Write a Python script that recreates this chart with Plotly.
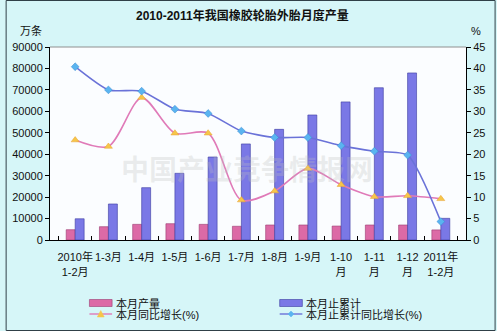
import plotly.graph_objects as go

# 2010-2011 monthly output of rubber tyre casings in China
categories = ["2010年<br>1-2月", "1-3月", "1-4月", "1-5月", "1-6月", "1-7月", "1-8月",
              "1-9月", "1-10<br>月", "1-11<br>月", "1-12<br>月", "2011年<br>1-2月"]
monthly_output = [4800, 6200, 7300, 7600, 7300, 6400, 7000, 7000, 6500, 7000, 7000, 4700]
cumulative_output = [9900, 16800, 24400, 31100, 38700, 44800, 51600, 58300, 64400, 71000, 77900, 10100]
monthly_yoy = [23.3, 21.8, 33.2, 24.9, 24.9, 9.3, 11.4, 16.7, 12.9, 10.1, 10.3, 9.6]
cumulative_yoy = [40.4, 35.0, 34.7, 30.5, 29.5, 25.4, 23.9, 23.9, 22.0, 20.7, 19.8, 4.3]

left_ticks = list(range(0, 90001, 10000))
right_ticks = list(range(0, 46, 5))

FONT = "Liberation Sans, Arial, Noto Sans CJK SC, sans-serif"
W, H = 497, 331
ML, MR, MT, MB = 45, 30, 47, 91
PW, PH = W - ML - MR, H - MT - MB

PINK, PINK_EDGE = "#dc6aa6", "#9a3a70"
BLUE, BLUE_EDGE = "#7a78e6", "#3a3aa0"
PINK_LINE, TRI = "#e07ab8", "#f6c64a"
BLUE_LINE, DIA = "#6a72d8", "#5ab4f0"


def px(x):
    return (x - ML) / PW


def py(y):
    return (H - MB - y) / PH


fig = go.Figure()
fig.add_trace(go.Bar(
    x=categories, y=monthly_output, name="本月产量",
    marker=dict(color=PINK, line=dict(color=PINK_EDGE, width=0.6)),
))
fig.add_trace(go.Bar(
    x=categories, y=cumulative_output, name="本月止累计",
    marker=dict(color=BLUE, line=dict(color=BLUE_EDGE, width=0.6)),
))
fig.add_trace(go.Scatter(
    x=categories, y=monthly_yoy, name="本月同比增长(%)", yaxis="y2",
    mode="lines+markers", line=dict(color=PINK_LINE, width=1.6, shape="spline", smoothing=0.8),
    marker=dict(symbol="triangle-up", size=7, color=TRI, line=dict(color="#e8a030", width=0.5)),
))
fig.add_trace(go.Scatter(
    x=categories, y=cumulative_yoy, name="本月止累计同比增长(%)", yaxis="y2",
    mode="lines+markers", line=dict(color=BLUE_LINE, width=1.6, shape="spline", smoothing=0.6),
    marker=dict(symbol="diamond", size=6, color=DIA, line=dict(color="#3a8ad0", width=0.5)),
))

# Two-column key below the chart: bar swatches on the first row, line keys on the second
key_cols = [85, 278]
key_rows = [303, 314]
key_shapes = []
key_texts = []
for col, (bar_name, bar_fill, bar_edge, line_name, line_col, mk_col, mk) in zip(key_cols, [
    ("本月产量", PINK, PINK_EDGE, "本月同比增长(%)", PINK_LINE, TRI, "tri"),
    ("本月止累计", BLUE, BLUE_EDGE, "本月止累计同比增长(%)", BLUE_LINE, DIA, "dia"),
]):
    key_shapes.append(dict(type="rect", xref="paper", yref="paper",
                           x0=px(col), x1=px(col + 23), y0=py(key_rows[0] - 3.5), y1=py(key_rows[0] + 3.5),
                           fillcolor=bar_fill, line=dict(color=bar_edge, width=0.6)))
    key_shapes.append(dict(type="line", xref="paper", yref="paper",
                           x0=px(col), x1=px(col + 23), y0=py(key_rows[1]), y1=py(key_rows[1]),
                           line=dict(color=line_col, width=1.4)))
    cx, cy = col + 11.5, key_rows[1]
    if mk == "tri":
        pts = [(cx - 3.5, cy + 3), (cx + 3.5, cy + 3), (cx, cy - 3.5)]
    else:
        pts = [(cx - 3, cy), (cx, cy - 3), (cx + 3, cy), (cx, cy + 3)]
    path = "M " + " L ".join(f"{px(a):.5f},{py(b):.5f}" for a, b in pts) + " Z"
    key_shapes.append(dict(type="path", xref="paper", yref="paper", path=path,
                           fillcolor=mk_col, line=dict(color=mk_col, width=0.5)))
    for row, name in zip(key_rows, [bar_name, line_name]):
        key_texts.append(dict(text=name, xref="paper", yref="paper", x=px(col + 25), y=py(row),
                              xanchor="left", yanchor="middle", showarrow=False,
                              font=dict(size=11, family=FONT)))

fig.update_layout(
    width=W, height=H,
    margin=dict(l=ML, r=MR, t=MT, b=MB),
    paper_bgcolor="#d6f6f8",
    plot_bgcolor="#fbfdff",
    font=dict(family=FONT, size=11, color="#111111"),
    barmode="group", bargap=0.46, bargroupgap=0.0,
    showlegend=False,
    xaxis=dict(
        showline=True, linecolor="#000000", linewidth=1, tickangle=0,
        ticks="inside", ticklen=4, tickcolor="#000000", tickson="boundaries",
        ticklabelstandoff=7,
        tickfont=dict(size=11), mirror=False, showgrid=False,
    ),
    yaxis=dict(
        range=[0, 90000], tickvals=left_ticks, ticktext=[str(v) for v in left_ticks],
        showline=True, linecolor="#000000", linewidth=1,
        ticks="outside", ticklen=4, tickcolor="#000000",
        showgrid=False, zeroline=False,
    ),
    yaxis2=dict(
        range=[0, 45], tickvals=right_ticks, overlaying="y", side="right",
        showline=True, linecolor="#000000", linewidth=1,
        ticks="outside", ticklen=4, tickcolor="#000000",
        showgrid=False, zeroline=False,
    ),
    shapes=[
        dict(type="line", xref="paper", yref="paper", x0=0, x1=1, y0=1, y1=1,
             line=dict(color="#909090", width=1)),
        dict(type="rect", xref="paper", yref="paper", x0=px(0.5), x1=px(W - 0.5), y0=py(H - 0.5), y1=py(0.5),
             line=dict(color="#304048", width=1)),
    ] + key_shapes,
    annotations=[
        dict(text="<b>2010-2011年我国橡胶轮胎外胎月度产量</b>", xref="paper", yref="paper",
             x=px(240), y=py(15), xanchor="center", yanchor="middle",
             showarrow=False, font=dict(size=12, family=FONT)),
        dict(text="万条", xref="paper", yref="paper", x=px(26), y=py(31),
             xanchor="center", yanchor="middle", showarrow=False, font=dict(size=11)),
        dict(text="%", xref="paper", yref="paper", x=px(477), y=py(31),
             xanchor="center", yanchor="middle", showarrow=False, font=dict(size=11)),
        dict(text="<b>中国产业竞争情报网</b>", xref="paper", yref="paper", x=px(245), y=py(170),
             xanchor="center", yanchor="middle", showarrow=False,
             font=dict(size=28, color="rgba(190,190,190,0.28)")),
    ] + key_texts,
)

fig.write_html("out.html")
